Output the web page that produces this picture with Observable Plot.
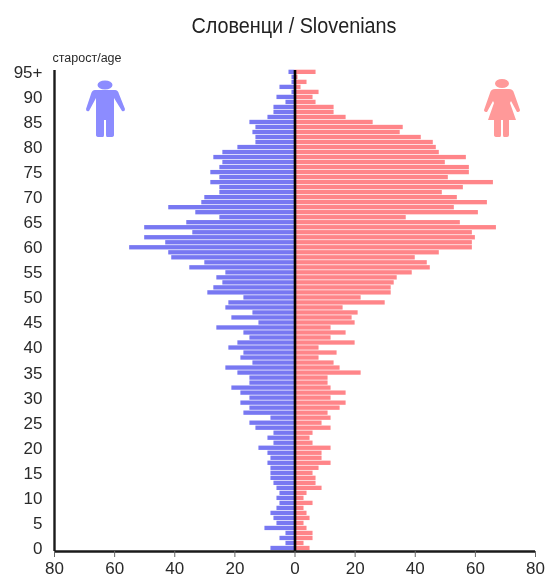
<!DOCTYPE html>
<html>
<head>
<meta charset="utf-8">
<script src="https://cdn.jsdelivr.net/npm/d3@7"></script>
<script src="https://cdn.jsdelivr.net/npm/@observablehq/plot@0.6"></script>
<style>
  html, body { margin: 0; padding: 0; background: #fff; }
  #page { position: relative; width: 547px; height: 578px; overflow: hidden; font-family: "Liberation Sans", Arial, sans-serif; filter: blur(0.35px); }
  #title { height: 44px; box-sizing: border-box; padding-top: 14px; text-align: center; font-size: 22px; line-height: 24px; color: #222; }
  #title span { display: inline-block; transform: scaleX(0.9); transform-origin: 50% 50%; margin-left: 41px; white-space: nowrap; }
  #chart svg { display: block; }
  .icon { position: absolute; left: 0; top: 0; }
</style>
</head>
<body>
<div id="page">
  <div id="title"><span>Словенци / Slovenians</span></div>
  <div id="chart"></div>
  <svg class="icon" width="547" height="578" aria-hidden="true">
    <g fill="#8c8cff">
      <ellipse cx="105" cy="85" rx="7.5" ry="4.5"/>
      <path d="M95 90 H115 Q118 90 119 94 L125 109 Q125 112 122 111 L114 98 V135 Q114 137 111 137 H107 Q106 137 106 135 V120 H104 V135 Q104 137 103 137 H99 Q96 137 96 135 V98 L89 111 Q86 112 86 109 L91 94 Q92 90 95 90 Z"/>
    </g>
    <g fill="#ff9999">
      <ellipse cx="502" cy="83.5" rx="7" ry="4.5"/>
      <path d="M495 89 H509 Q513 89 514 93 L520 110 Q520 112 517 112 L511 101 L510 103 L516 120 H509 V135 Q509 137 507 137 H504 Q503 137 503 135 V120 H501 V135 Q501 137 500 137 H497 Q494 137 494 135 V120 H488 L494 103 L493 101 L487 112 Q484 112 484 110 L490 93 Q491 89 495 89 Z"/>
    </g>
  </svg>
</div>
<script>
const ages = d3.range(95, -1, -1);
const male = [2,1,1,5,1,6,3,7,7,9,15,13,14,13,13,19,24,27,24,25,28,25,28,25,25,30,31,42,33,25,36,50,34,50,43,55,42,41,30,35,23,26,24,27,29,17,22,23,14,21,12,26,17,15,19,22,17,18,14,23,19,15,15,21,18,15,18,15,17,8,15,13,7,9,7,12,9,8,9,8,8,8,7,6,5,6,5,6,8,7,6,10,3,5,3,8];
const female = [7,1,4,2,8,6,7,13,13,17,26,36,35,42,46,47,48,57,50,58,58,51,66,56,49,54,64,53,61,37,55,67,59,60,59,59,48,40,44,45,39,34,33,32,32,22,30,16,21,19,20,12,17,12,20,8,14,8,13,15,22,11,11,12,17,12,17,15,11,12,9,12,6,5,6,12,9,9,12,8,6,7,7,9,4,3,6,3,4,5,3,4,6,6,3,5];
const xTicks = [-80,-60,-40,-20,0,20,40,60,80];
const yTicks = d3.range(0, 96, 5);
const barHalf = 0.43;

const rows = ages.map((age, i) => ({age, m: male[i], f: female[i]}));
const axisColor = "#1a1a1a";
const textColor = "#2a2a2a";

const plot = Plot.plot({
  width: 547,
  height: 534,
  marginLeft: 54,
  marginRight: 12,
  marginTop: 26,
  marginBottom: 27,
  style: {background: "transparent", fontFamily: "'Liberation Sans', Arial, sans-serif", overflow: "visible"},
  x: {domain: [-80, 80]},
  y: {domain: [-0.6, 95.37]},
  marks: [
    Plot.rectX(rows, {x1: 0, x2: d => -d.m, y1: d => d.age - barHalf, y2: d => d.age + barHalf, fill: "#7878f2"}),
    Plot.rectX(rows, {x1: 0, x2: "f", y1: d => d.age - barHalf, y2: d => d.age + barHalf, fill: "#ff8589"}),
    Plot.ruleX([0], {stroke: "#000", strokeWidth: 2.6}),
    Plot.ruleX([-80], {stroke: axisColor, strokeWidth: 2.4}),
    Plot.ruleY([-0.6], {stroke: axisColor, strokeWidth: 2.4}),
    Plot.axisX({ticks: xTicks, tickFormat: Math.abs, tickSize: 6, tickPadding: 4, fontSize: 17, label: null, stroke: "#666", color: textColor}),
    Plot.axisY({ticks: yTicks, tickFormat: d => d === 95 ? "95+" : d, tickSize: 0, tickPadding: 12, fontSize: 17, label: null, color: textColor}),
    Plot.text(["старост/age"], {x: -80, y: 95.37, text: d => d, dy: -13, dx: -2, textAnchor: "start", fontSize: 12.5, fill: textColor})
  ]
});
document.getElementById("chart").appendChild(plot);
</script>
</body>
</html>
